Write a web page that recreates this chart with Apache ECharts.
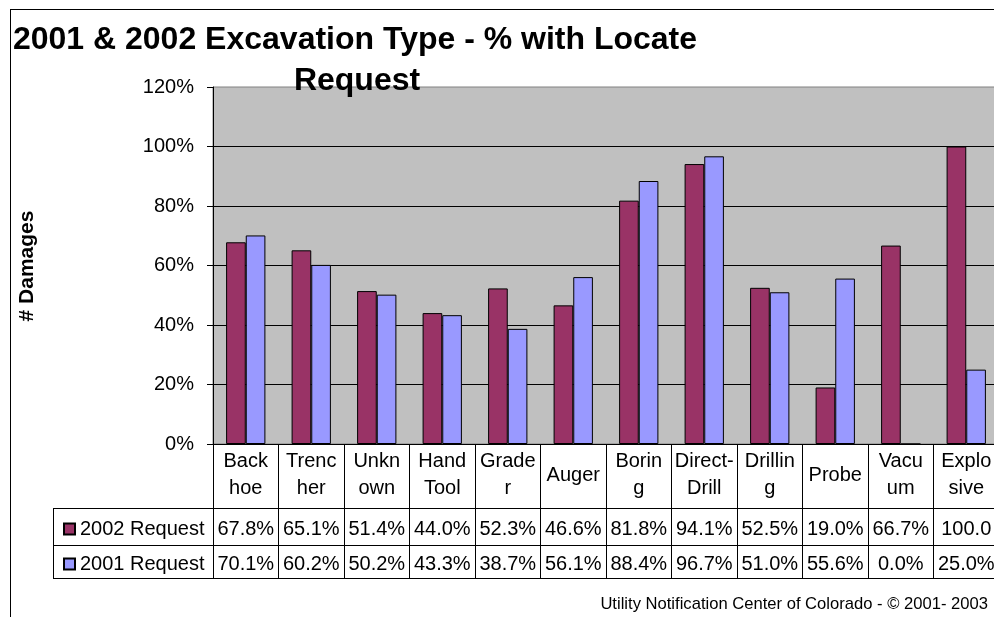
<!DOCTYPE html>
<html>
<head>
<meta charset="utf-8">
<script src="https://cdn.jsdelivr.net/npm/echarts@6/dist/echarts.min.js"></script>
<style>
html, body { margin: 0; padding: 0; overflow: hidden; background: #fff; }
#main { width: 1000px; height: 617px; }
</style>
</head>
<body>
<div id="main"></div>
<script>
var categories = ['Back\nhoe', 'Trenc\nher', 'Unkn\nown', 'Hand\nTool', 'Grade\nr', 'Auger', 'Borin\ng', 'Direct-\nDrill', 'Drillin\ng', 'Probe', 'Vacu\num', 'Explo\nsive'];
var request2002 = [67.8, 65.1, 51.4, 44.0, 52.3, 46.6, 81.8, 94.1, 52.5, 19.0, 66.7, 100.0];
var request2001 = [70.1, 60.2, 50.2, 43.3, 38.7, 56.1, 88.4, 96.7, 51.0, 55.6, 0.0, 25.0];
var seriesNames = ['2002 Request', '2001 Request'];

var font = "'Liberation Sans', Arial, sans-serif";
var myChart = echarts.init(document.getElementById('main'));

function pct(v) {
	return v.toFixed(1) + '%';
}

function line(x1, y1, x2, y2) {
	return {
		type: 'line',
		shape: { x1: x1, y1: y1, x2: x2, y2: y2 },
		style: { stroke: '#000', lineWidth: 1 },
		silent: true
	};
}

// one table row under the plot, drawn as an extra category axis
function rowAxis(offset, margin, values) {
	return {
		type: 'category',
		data: categories,
		position: 'bottom',
		offset: offset,
		axisLine: { lineStyle: { color: '#000', width: 1 } },
		axisTick: { show: false },
		axisLabel: {
			interval: 0,
			margin: margin,
			verticalAlign: 'middle',
			fontSize: 20,
			color: '#000',
			fontFamily: font,
			width: 64,
			overflow: 'truncate',
			ellipsis: '',
			formatter: function(v, i) {
				return pct(values[i]);
			}
		}
	};
}

var option = {
	animation: false,
	textStyle: { fontFamily: font },
	grid: {
		left: 213,
		right: 1,
		top: 87,
		bottom: 173,
		outerBoundsMode: 'none',
		show: true,
		backgroundColor: '#c0c0c0',
		borderColor: '#808080',
		borderWidth: 1
	},
	legend: {
		orient: 'vertical',
		left: 58,
		top: 514,
		itemGap: 15,
		itemWidth: 11,
		itemHeight: 11,
		icon: 'rect',
		data: seriesNames,
		textStyle: { fontSize: 20, color: '#000', fontFamily: font }
	},
	xAxis: [{
		type: 'category',
		data: categories,
		position: 'bottom',
		axisLine: { lineStyle: { color: '#000', width: 1 } },
		axisTick: { show: true, length: 134, lineStyle: { color: '#000' } },
		axisLabel: {
			interval: 0,
			margin: 31,
			verticalAlign: 'middle',
			lineHeight: 27,
			fontSize: 20,
			color: '#000',
			fontFamily: font
		}
	},
		rowAxis(64, 21, request2002),
		rowAxis(101, 19, request2001),
	{
		type: 'category',
		data: categories,
		position: 'bottom',
		offset: 134,
		axisLine: { lineStyle: { color: '#000', width: 1 } },
		axisTick: { show: false },
		axisLabel: { show: false }
	}],
	yAxis: {
		type: 'value',
		min: 0,
		max: 120,
		interval: 20,
		axisLine: { show: true, lineStyle: { color: '#000' } },
		axisTick: { show: true, length: 6, lineStyle: { color: '#000' } },
		axisLabel: {
			margin: 19,
			fontSize: 20,
			color: '#000',
			fontFamily: font,
			formatter: '{value}%'
		},
		splitLine: {
			show: true,
			showMaxLine: false,
			lineStyle: { color: '#000', width: 1 }
		}
	},
	series: [{
		name: seriesNames[0],
		type: 'bar',
		data: request2002,
		barGap: '0%',
		barCategoryGap: '40%',
		itemStyle: { color: '#993366', borderColor: '#000', borderWidth: 1 }
	}, {
		name: seriesNames[1],
		type: 'bar',
		data: request2001,
		itemStyle: { color: '#9999ff', borderColor: '#000', borderWidth: 1 }
	}],
	graphic: [
		line(10, 9.5, 1000, 9.5),
		line(10.5, 9, 10.5, 617),
		line(53, 508.5, 213, 508.5),
		line(53, 545.5, 213, 545.5),
		line(53, 578.5, 213, 578.5),
		line(53.5, 508, 53.5, 579),
		{
			type: 'text',
			x: 355,
			y: 40,
			style: {
				text: '2001 & 2002 Excavation Type - % with Locate',
				font: 'bold 32px ' + font,
				fill: '#000',
				textAlign: 'center',
				textVerticalAlign: 'middle'
			}
		}, {
			type: 'text',
			x: 357,
			y: 81,
			z: 100,
			style: {
				text: 'Request',
				font: 'bold 32px ' + font,
				fill: '#000',
				textAlign: 'center',
				textVerticalAlign: 'middle'
			}
		}, {
			type: 'text',
			x: 27,
			y: 266,
			rotation: Math.PI / 2,
			style: {
				text: '# Damages',
				font: 'bold 21px ' + font,
				fill: '#000',
				textAlign: 'center',
				textVerticalAlign: 'middle'
			}
		}, {
			type: 'text',
			x: 988,
			y: 604,
			style: {
				text: 'Utility Notification Center of Colorado - \u00a9 2001- 2003',
				font: "16.6px 'Liberation Sans Narrow', 'Arial Narrow', sans-serif",
				fill: '#000',
				textAlign: 'right',
				textVerticalAlign: 'middle'
			}
		}
	]
};

myChart.setOption(option);
</script>
</body>
</html>
